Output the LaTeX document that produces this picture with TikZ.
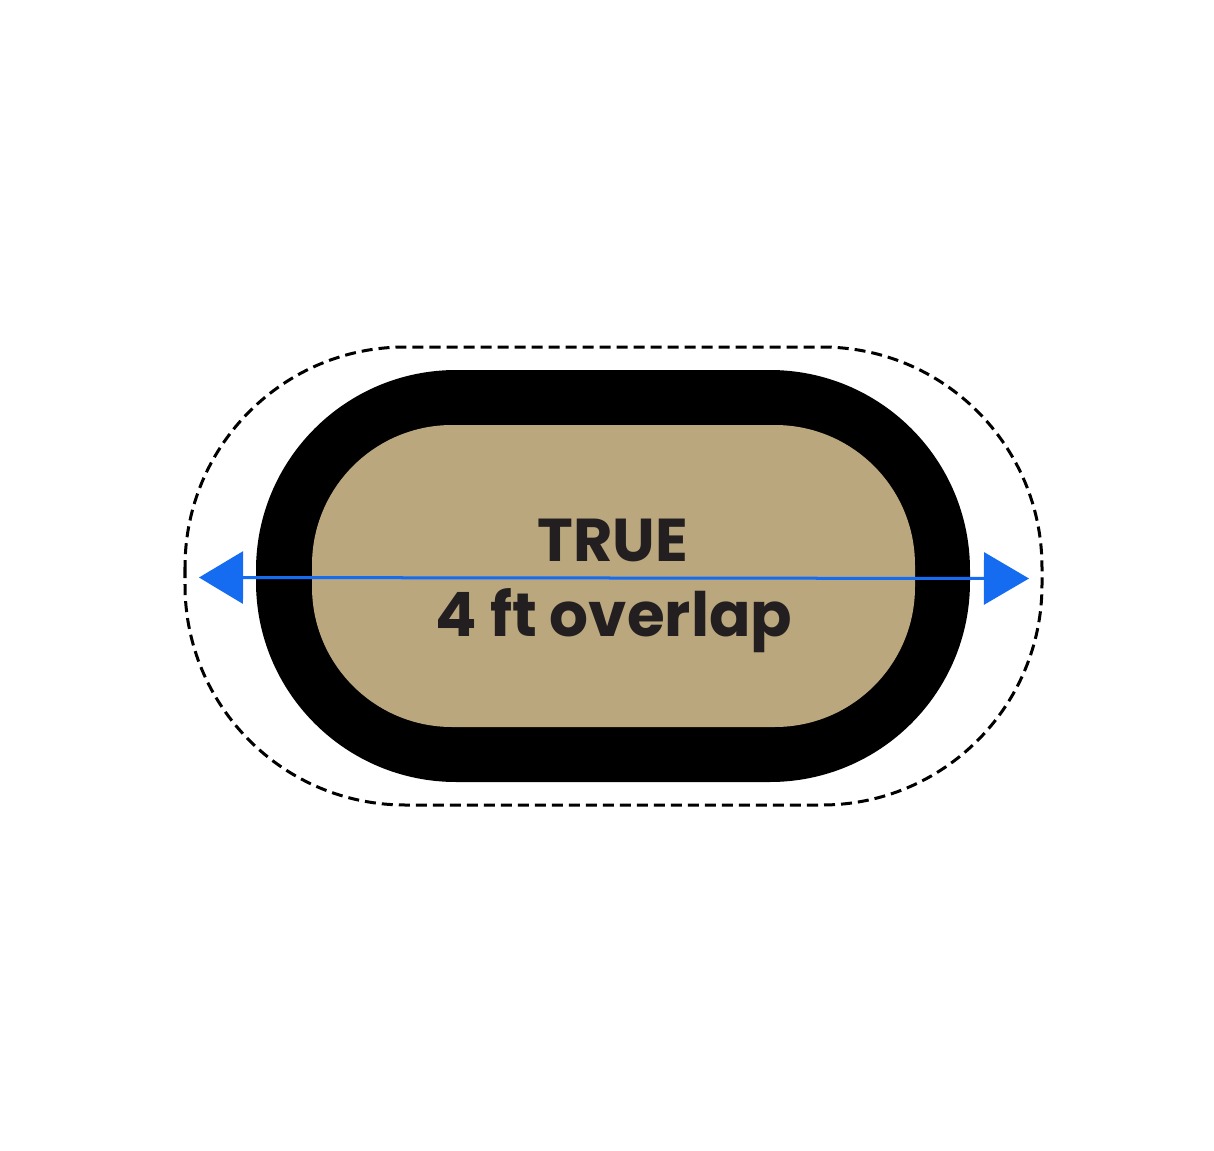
\documentclass[tikz,border=0pt]{standalone}
\usepackage{fontspec}
\newfontfamily\popfont{Poppins}[UprightFont=* Bold]
\usetikzlibrary{arrows.meta}
\definecolor{tan}{RGB}{186,167,125}
\definecolor{arrowblue}{RGB}{22,108,240}
\definecolor{ink}{RGB}{35,31,32}
\tikzset{
  ringbox/.style={fill=black},
  innerbox/.style={fill=tan},
  dashbox/.style={draw=black, line width=0.03cm, dash pattern=on 0.11cm off 0.06cm},
  label/.style={font=\popfont, text=ink, inner sep=0pt, anchor=base},
  dimline/.style={draw=arrowblue, line width=0.03cm, {Triangle[length=0.44cm,width=0.52cm]}-{Triangle[length=0.45cm,width=0.52cm]}}
}
\begin{document}
\begin{tikzpicture}[x=0.01cm,y=-0.01cm]
\useasboundingbox (0,0) rectangle (1214,1151);
\fill[white] (0,0) rectangle (1214,1151);
% dashed outline
\draw[dashbox, rounded corners=2.2cm] (185,347) rectangle (1042,805);
% black ring
\fill[ringbox, rounded corners=2.0cm] (256,370) rectangle (970,782);
% tan interior
\fill[innerbox, rounded corners=1.4cm] (312,425) rectangle (915,727);
% texts
\node[label, font=\popfont\fontsize{17.2pt}{20pt}\selectfont] (t1) at (613,561) {TRUE};
\node[label, font=\popfont\fontsize{17.4pt}{21pt}\selectfont] (t2) at (614,636) {4 ft overlap};
% dimension arrow
\coordinate (L) at (199,577.5);
\coordinate (R) at (1029,578.5);
\draw[dimline] (L) -- (R);
\end{tikzpicture}
\end{document}
